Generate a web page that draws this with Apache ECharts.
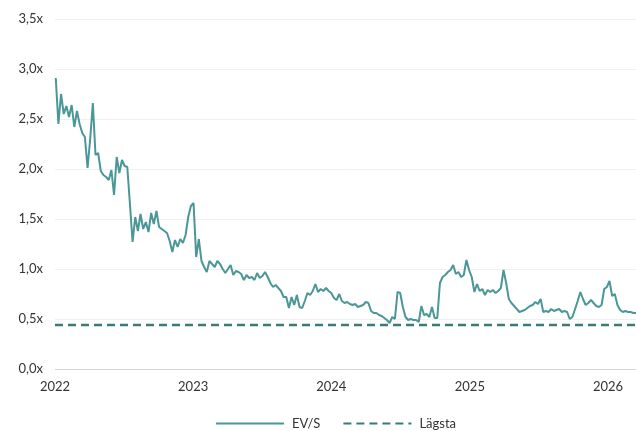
<!DOCTYPE html>
<html>
<head>
<meta charset="utf-8">
<script src="https://cdn.jsdelivr.net/npm/echarts@6/dist/echarts.min.js"></script>
<style>
  html, body { margin: 0; padding: 0; background: #fff; }
  #chart { width: 636px; height: 431px; }
</style>
</head>
<body>
<div id="chart"></div>
<script>
// weekly EV/S readings, first week starts 2022-01-03
const startDate = '2022-01-03'
const evs2022 = [2.91, 2.45, 2.75, 2.55, 2.63, 2.52, 2.64, 2.42, 2.58, 2.45,
  2.36, 2.32, 2.01, 2.30, 2.66, 2.14, 2.16, 1.98, 1.94, 1.92,
  1.89, 1.99, 1.74, 2.12, 1.96, 2.09, 2.03, 2.02, 1.65, 1.27,
  1.52, 1.38, 1.55, 1.40, 1.47, 1.37, 1.56, 1.45, 1.58, 1.42,
  1.40, 1.38, 1.36, 1.28, 1.17, 1.29, 1.22, 1.30, 1.26, 1.34,
  1.52, 1.63]
const evs2023 = [1.66, 1.12, 1.30, 1.08, 1.02, 0.97, 1.08, 1.05, 1.02, 1.08,
  1.05, 1.00, 0.96, 1.00, 1.04, 0.94, 0.98, 0.97, 0.95, 0.89,
  0.94, 0.91, 0.92, 0.89, 0.96, 0.91, 0.93, 0.97, 0.92, 0.86,
  0.82, 0.84, 0.81, 0.78, 0.72, 0.72, 0.61, 0.72, 0.64, 0.74,
  0.62, 0.61, 0.68, 0.76, 0.74, 0.78, 0.85, 0.77, 0.80, 0.78,
  0.81, 0.78]
const evs2024 = [0.76, 0.71, 0.69, 0.75, 0.68, 0.66, 0.67, 0.65, 0.64, 0.65,
  0.62, 0.63, 0.64, 0.67, 0.66, 0.58, 0.56, 0.56, 0.54, 0.53,
  0.51, 0.49, 0.46, 0.52, 0.50, 0.77, 0.76, 0.62, 0.52, 0.49,
  0.50, 0.49, 0.49, 0.47, 0.63, 0.54, 0.55, 0.52, 0.62, 0.51,
  0.51, 0.86, 0.92, 0.94, 0.97, 0.99, 1.04, 0.95, 0.97, 0.92,
  0.94, 1.09]
const evs2025 = [0.99, 0.92, 0.77, 0.85, 0.78, 0.80, 0.74, 0.79, 0.77, 0.79,
  0.76, 0.78, 0.81, 0.99, 0.86, 0.70, 0.66, 0.63, 0.60, 0.57,
  0.58, 0.59, 0.61, 0.63, 0.64, 0.67, 0.65, 0.70, 0.57, 0.58,
  0.57, 0.60, 0.58, 0.59, 0.60, 0.57, 0.58, 0.57, 0.50, 0.52,
  0.60, 0.68, 0.77, 0.70, 0.64, 0.66, 0.69, 0.66, 0.63, 0.62,
  0.64, 0.80]
const evs2026 = [0.82, 0.88, 0.73, 0.75, 0.64, 0.59, 0.57, 0.58, 0.57, 0.57, 0.56, 0.56]
const lowest = 0.44

const yTicks = [0, 0.5, 1, 1.5, 2, 2.5, 3, 3.5]

const DAY = 24 * 3600 * 1000
const evs = [...evs2022, ...evs2023, ...evs2024, ...evs2025, ...evs2026]
const t0 = new Date(startDate + 'T00:00:00Z').getTime()
const evsData = evs.map((v, i) => [t0 + i * 7 * DAY, v])
const xMin = new Date('2022-01-01T00:00:00Z').getTime()
const xMax = evsData[evsData.length - 1][0]
const lowestData = [[xMin, lowest], [xMax, lowest]]

function formatMultiple(value) {
  return value.toFixed(1).replace('.', ',') + 'x'
}

const chart = echarts.init(document.getElementById('chart'))

chart.setOption({
  animation: false,
  textStyle: { fontFamily: 'Lato, "Noto Sans", sans-serif' },
  grid: { top: 19, right: 0, bottom: 62, left: 55 },
  legend: {
    bottom: -4,
    left: 210,
    itemWidth: 68,
    itemHeight: 10,
    itemGap: 22,
    itemStyle: { opacity: 0 },
    textStyle: { color: '#333', fontSize: 13, padding: [0, 0, 0, 3] },
    data: ['EV/S', 'Lägsta']
  },
  xAxis: {
    type: 'time',
    min: xMin,
    max: xMax,
    minInterval: 365 * DAY,
    axisTick: { show: false },
    axisLine: { show: false },
    splitLine: { show: false },
    axisLabel: {
      color: '#333',
      fontSize: 13,
      margin: 11,
      formatter: '{yyyy}',
      hideOverlap: true
    }
  },
  yAxis: {
    type: 'value',
    min: yTicks[0],
    max: yTicks[yTicks.length - 1],
    interval: 0.5,
    axisLine: { show: false },
    axisTick: { show: false },
    axisLabel: {
      color: '#333',
      fontSize: 13,
      margin: 12,
      formatter: formatMultiple
    },
    splitLine: {
      lineStyle: { color: ['#d6d6d6', '#f0f0f0', '#f0f0f0', '#f0f0f0', '#f0f0f0', '#f0f0f0', '#f0f0f0', '#f0f0f0'], width: 1 }
    }
  },
  series: [
    {
      name: 'EV/S',
      type: 'line',
      data: evsData,
      symbol: 'none',
      lineStyle: { color: '#4b9797', width: 2 },
      itemStyle: { color: '#4b9797' }
    },
    {
      name: 'Lägsta',
      type: 'line',
      data: lowestData,
      symbol: 'none',
      lineStyle: { color: '#3b7b77', width: 2.5, type: [8, 5] },
      itemStyle: { color: '#3b7b77' }
    }
  ]
})
</script>
</body>
</html>
